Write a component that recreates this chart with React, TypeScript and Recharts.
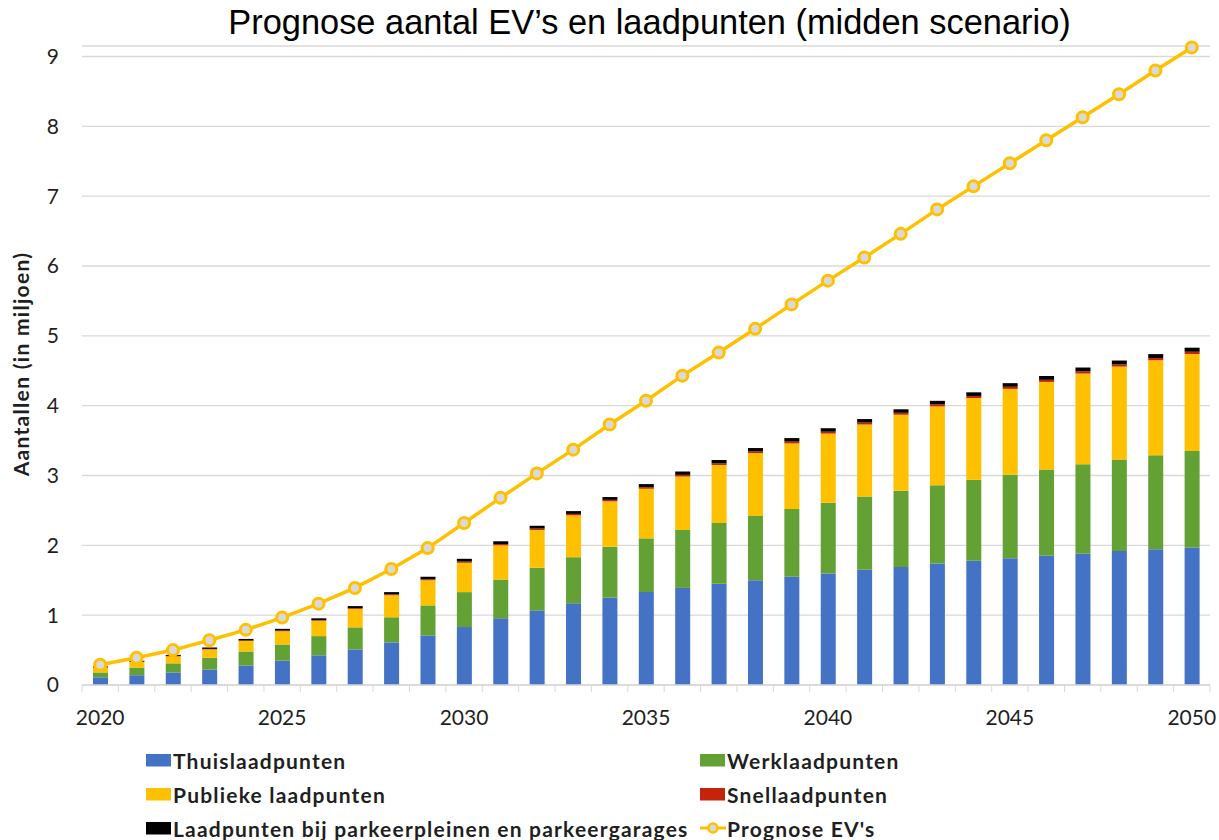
import React from 'react';
import { ComposedChart, Bar, Line, XAxis, YAxis, CartesianGrid, Legend, Label } from 'recharts';

const years = [2020, 2021, 2022, 2023, 2024, 2025, 2026, 2027, 2028, 2029, 2030, 2031, 2032, 2033, 2034, 2035, 2036, 2037, 2038, 2039, 2040, 2041, 2042, 2043, 2044, 2045, 2046, 2047, 2048, 2049, 2050];
const thuis = [0.11, 0.14, 0.18, 0.22, 0.28, 0.35, 0.425, 0.51, 0.61, 0.71, 0.83, 0.955, 1.065, 1.17, 1.25, 1.33, 1.39, 1.45, 1.5, 1.55, 1.595, 1.65, 1.69, 1.74, 1.78, 1.815, 1.85, 1.88, 1.92, 1.945, 1.97];
const werk = [0.07, 0.11, 0.13, 0.17, 0.2, 0.23, 0.275, 0.315, 0.36, 0.43, 0.5, 0.555, 0.615, 0.66, 0.73, 0.77, 0.83, 0.87, 0.92, 0.97, 1.015, 1.05, 1.09, 1.12, 1.16, 1.195, 1.235, 1.28, 1.31, 1.345, 1.38];
const publiek = [0.07, 0.08, 0.1, 0.12, 0.15, 0.19, 0.22, 0.265, 0.315, 0.36, 0.42, 0.49, 0.54, 0.6, 0.65, 0.71, 0.765, 0.83, 0.9, 0.94, 0.99, 1.03, 1.09, 1.13, 1.17, 1.23, 1.255, 1.3, 1.33, 1.36, 1.39];
const snel = [0.004, 0.005, 0.006, 0.007, 0.008, 0.009, 0.01, 0.012, 0.013, 0.015, 0.017, 0.018, 0.02, 0.02, 0.021, 0.022, 0.024, 0.024, 0.025, 0.026, 0.027, 0.028, 0.028, 0.029, 0.029, 0.03, 0.03, 0.031, 0.031, 0.032, 0.032];
const parkeer = [0.012, 0.012, 0.015, 0.02, 0.022, 0.025, 0.025, 0.028, 0.032, 0.035, 0.04, 0.04, 0.04, 0.04, 0.04, 0.045, 0.048, 0.048, 0.048, 0.05, 0.05, 0.05, 0.05, 0.05, 0.052, 0.052, 0.055, 0.055, 0.055, 0.056, 0.058];
const prognoseEV = [0.29, 0.39, 0.5, 0.64, 0.79, 0.965, 1.165, 1.39, 1.66, 1.96, 2.32, 2.68, 3.03, 3.37, 3.73, 4.07, 4.43, 4.76, 5.1, 5.45, 5.79, 6.12, 6.46, 6.81, 7.14, 7.47, 7.8, 8.13, 8.46, 8.8, 9.13];
const yTicks = [0, 1, 2, 3, 4, 5, 6, 7, 8, 9];
const xLabelYears = [2020, 2025, 2030, 2035, 2040, 2045, 2050];

const data = years.map((year, i) => ({
  year,
  thuis: thuis[i],
  werk: werk[i],
  publiek: publiek[i],
  snel: snel[i],
  parkeer: parkeer[i],
  ev: prognoseEV[i],
}));

const COLORS = {
  thuis: '#4472C4',
  werk: '#63A134',
  publiek: '#FFC000',
  snel: '#C4240C',
  parkeer: '#000000',
  ev: '#FFC000',
};

const FONT = 'Lato, "Open Sans", sans-serif';
const TEXT = '#1f1f1f';

const XTick = (props: any) => {
  const { x, y, payload, index } = props;
  const half = payload && typeof payload.offset === 'number' && payload.offset > 0 ? payload.offset : 18.2;
  const year = payload.value;
  return (
    <g>
      <line x1={x - half} x2={x - half} y1={y} y2={y + 7} stroke="#D9D9D9" strokeWidth={1} />
      {index === years.length - 1 && (
        <line x1={x + half} x2={x + half} y1={y} y2={y + 7} stroke="#D9D9D9" strokeWidth={1} />
      )}
      {xLabelYears.includes(year) && (
        <text x={x} y={y + 40} textAnchor="middle" fontSize={21} fontFamily={FONT} fill={TEXT}>
          {year}
        </text>
      )}
    </g>
  );
};

const legendRows = [
  [
    { key: 'thuis', label: 'Thuislaadpunten', type: 'rect' },
    { key: 'werk', label: 'Werklaadpunten', type: 'rect' },
  ],
  [
    { key: 'publiek', label: 'Publieke laadpunten', type: 'rect' },
    { key: 'snel', label: 'Snellaadpunten', type: 'rect' },
  ],
  [
    { key: 'parkeer', label: 'Laadpunten bij parkeerpleinen en parkeergarages', type: 'rect' },
    { key: 'ev', label: "Prognose EV's", type: 'line' },
  ],
];

const LegendContent = () => (
  <div style={{ position: 'relative', width: 1219, height: 100, fontFamily: FONT }}>
    {legendRows.map((row, r) =>
      row.map((item, c) => (
        <div
          key={item.key}
          style={{
            position: 'absolute',
            left: c === 0 ? 146 : 700,
            top: r * 34,
            height: 34,
            display: 'flex',
            alignItems: 'center',
            whiteSpace: 'nowrap',
          }}
        >
          {item.type === 'rect' ? (
            <svg width={26} height={14} style={{ marginRight: 1 }}>
              <rect x={0} y={1} width={25} height={12.5} fill={(COLORS as any)[item.key]} />
            </svg>
          ) : (
            <svg width={26} height={16} style={{ marginRight: 1 }}>
              <line x1={0} x2={26} y1={8} y2={8} stroke={COLORS.ev} strokeWidth={3} />
              <circle cx={13} cy={8} r={4.5} fill="#D9D9D9" stroke={COLORS.ev} strokeWidth={2.5} />
            </svg>
          )}
          <span style={{ fontSize: 21, fontWeight: 700, color: TEXT, letterSpacing: 1.2 }}>{item.label}</span>
        </div>
      ))
    )}
  </div>
);

const YLabel = () => {
  const cy = 364;
  const cx = 20;
  return (
    <text
      x={cx}
      y={cy}
      transform={`rotate(-90, ${cx}, ${cy})`}
      textAnchor="middle"
      dominantBaseline="central"
      fontSize={21}
      fontWeight={700}
      fontFamily={FONT}
      letterSpacing={1.3}
      fill={TEXT}
    >
      Aantallen (in miljoen)
    </text>
  );
};

export default function App() {
  return (
    <div style={{ position: 'absolute', left: 0, top: 0, width: 1219, height: 840, background: '#fff' }}>
      <div
        style={{
          position: 'absolute',
          left: 40,
          top: 1,
          width: 1219,
          textAlign: 'center',
          fontFamily: '"Liberation Sans", Arial, sans-serif',
          fontSize: 34.4,
          lineHeight: '42px',
          color: '#000',
        }}
      >
        Prognose aantal EV’s en laadpunten (midden scenario)
      </div>
      <ComposedChart
        width={1219}
        height={840}
        data={data}
        margin={{ top: 46, right: 9, bottom: 107, left: 0 }}
        barCategoryGap={0}
        style={{ position: 'absolute', left: 0, top: 0 }}
      >
        <CartesianGrid horizontal={true} vertical={false} stroke="#D9D9D9" strokeWidth={1.3} />
        <XAxis
          dataKey="year"
          type="category"
          interval={0}
          height={48}
          tickSize={0}
          tickMargin={0}
          tickLine={false}
          axisLine={{ stroke: '#D9D9D9', strokeWidth: 1.3 }}
          tick={<XTick />}
        />
        <YAxis
          type="number"
          domain={[0, 9.15]}
          ticks={yTicks}
          width={82}
          tickSize={0}
          tickMargin={23}
          tickLine={false}
          axisLine={false}
          tick={{ fontSize: 21, fontFamily: FONT, fill: TEXT }}
        >
          <Label content={<YLabel />} />
        </YAxis>
        <Bar dataKey="thuis" name="Thuislaadpunten" stackId="a" fill={COLORS.thuis} barSize={15} isAnimationActive={false} />
        <Bar dataKey="werk" name="Werklaadpunten" stackId="a" fill={COLORS.werk} barSize={15} isAnimationActive={false} />
        <Bar dataKey="publiek" name="Publieke laadpunten" stackId="a" fill={COLORS.publiek} barSize={15} isAnimationActive={false} />
        <Bar dataKey="snel" name="Snellaadpunten" stackId="a" fill={COLORS.snel} barSize={15} isAnimationActive={false} />
        <Bar dataKey="parkeer" name="Laadpunten bij parkeerpleinen en parkeergarages" stackId="a" fill={COLORS.parkeer} barSize={15} isAnimationActive={false} />
        <Line
          dataKey="ev"
          name="Prognose EV's"
          type="linear"
          stroke={COLORS.ev}
          strokeWidth={3.5}
          dot={{ r: 5.5, fill: '#D9D9D9', stroke: COLORS.ev, strokeWidth: 3 }}
          activeDot={false}
          isAnimationActive={false}
        />
        <Legend
          layout="horizontal"
          verticalAlign="middle"
          align="center"
          content={<LegendContent />}
          wrapperStyle={{ top: 743, left: 0, width: 1219, height: 100 }}
        />
      </ComposedChart>
    </div>
  );
}
